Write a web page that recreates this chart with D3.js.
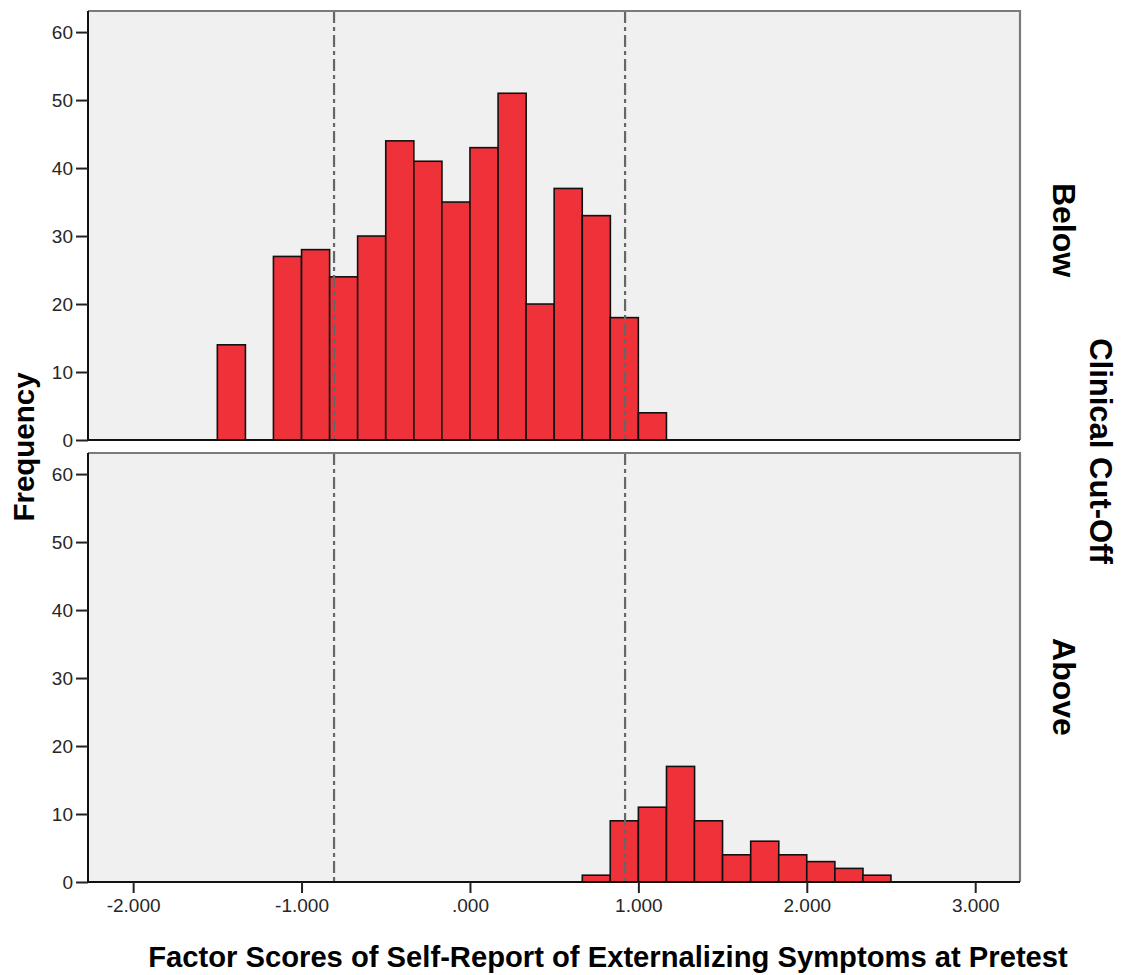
<!DOCTYPE html>
<html>
<head>
<meta charset="utf-8">
<script src="https://cdn.jsdelivr.net/npm/d3@7"></script>
<style>
  html, body { margin: 0; padding: 0; background: #fff; }
  svg { display: block; font-family: Arial, "Liberation Sans", sans-serif; }
</style>
</head>
<body>
<svg id="chart" width="1122" height="975"></svg>
<script>
// ---- data ----
const binWidth = 0.1667;
const belowBinStarts = [-1.5, -1.333, -1.167, -1.0, -0.833, -0.667, -0.5, -0.333, -0.167, 0.0, 0.167, 0.333, 0.5, 0.667, 0.833, 1.0];
const belowCounts    = [14, 0, 27, 28, 24, 30, 44, 41, 35, 43, 51, 20, 37, 33, 18, 4];
const aboveBinStarts = [0.667, 0.833, 1.0, 1.167, 1.333, 1.5, 1.667, 1.833, 2.0, 2.167, 2.333];
const aboveCounts    = [1, 9, 11, 17, 9, 4, 6, 4, 3, 2, 1];
const cutLines = [-0.807, 0.921];
const xTicks = [-2, -1, 0, 1, 2, 3];
const xTickLabels = ["-2.000", "-1.000", ".000", "1.000", "2.000", "3.000"];
const yTicks = [0, 10, 20, 30, 40, 50, 60];
const panelNames = ["Below", "Above"];
const xTitle = "Factor Scores of Self-Report of Externalizing Symptoms at Pretest";
const yTitle = "Frequency";
const facetTitle = "Clinical Cut-Off";

// ---- layout ----
const svg = d3.select("#chart");
const left = 88, right = 1020;
const panels = [
  { name: panelNames[0], top: 11, bottom: 440, labelY: 230, starts: belowBinStarts, counts: belowCounts },
  { name: panelNames[1], top: 453, bottom: 882, labelY: 687, starts: aboveBinStarts, counts: aboveCounts }
];
const x = d3.scaleLinear().domain([-2.268, 3.266]).range([left, right]);
const yMax = 63.1;

const barFill = "#ef3239";

panels.forEach((p, i) => {
  const y = d3.scaleLinear().domain([0, yMax]).range([p.bottom, p.top]);
  const g = svg.append("g");
  g.append("rect").attr("x", left).attr("y", p.top).attr("width", right - left).attr("height", p.bottom - p.top)
    .attr("fill", "#f0f0f0");
  const data = p.starts.map((s, k) => ({ s, c: p.counts[k] })).filter(d => d.c > 0);
  g.selectAll("rect.bar").data(data).enter().append("rect")
    .attr("class", "bar")
    .attr("x", d => x(d.s))
    .attr("width", d => x(d.s + binWidth) - x(d.s))
    .attr("y", d => y(d.c))
    .attr("height", d => y(0) - y(d.c))
    .attr("fill", barFill)
    .attr("stroke", "#111")
    .attr("stroke-width", 1.6);
  g.selectAll("line.cut").data(cutLines).enter().append("line")
    .attr("x1", d => x(d)).attr("x2", d => x(d))
    .attr("y1", p.top).attr("y2", p.bottom)
    .attr("stroke", "#666").attr("stroke-width", 2.2)
    .attr("stroke-dasharray", "12,4,4,4");
  g.append("path")
    .attr("d", `M${left},${p.top}H${right}V${p.bottom}`)
    .attr("fill", "none").attr("stroke", "#7a7a7a").attr("stroke-width", 2.2);
  const ya = g.append("g").attr("transform", `translate(${left},0)`)
    .call(d3.axisLeft(y).tickValues(yTicks).tickSize(12).tickPadding(3).tickFormat(d3.format("d")));
  ya.select(".domain").attr("d", `M0,${p.top}V${p.bottom}`).attr("stroke", "#111").attr("stroke-width", 2);
  ya.selectAll(".tick line").attr("stroke", "#222").attr("stroke-width", 2);
  ya.selectAll(".tick text").attr("font-size", 19).attr("fill", "#262626")
    .attr("font-family", "Arial, 'Liberation Sans', sans-serif");
  g.append("line").attr("x1", left).attr("x2", right).attr("y1", p.bottom).attr("y2", p.bottom)
    .attr("stroke", "#111").attr("stroke-width", 2);
  svg.append("text")
    .attr("transform", `translate(1053, ${p.labelY}) rotate(90)`)
    .attr("text-anchor", "middle")
    .attr("font-size", 32).attr("font-weight", "bold").attr("fill", "#000")
    .text(p.name);
});

const xa = svg.append("g").attr("transform", `translate(0,${panels[1].bottom})`)
  .call(d3.axisBottom(x).tickValues(xTicks).tickSize(11).tickPadding(6)
    .tickFormat((d, k) => xTickLabels[k]));
xa.select(".domain").remove();
xa.selectAll(".tick line").attr("stroke", "#222").attr("stroke-width", 2);
xa.selectAll(".tick text").attr("font-size", 19).attr("fill", "#262626")
  .attr("font-family", "Arial, 'Liberation Sans', sans-serif");

svg.append("text")
  .attr("x", 608).attr("y", 967)
  .attr("text-anchor", "middle")
  .attr("font-size", 29.2).attr("font-weight", "bold").attr("fill", "#000")
  .text(xTitle);

svg.append("text")
  .attr("transform", "translate(34, 447) rotate(-90)")
  .attr("text-anchor", "middle")
  .attr("font-size", 29.5).attr("font-weight", "bold").attr("fill", "#000")
  .text(yTitle);

svg.append("text")
  .attr("transform", "translate(1090, 451) rotate(90)")
  .attr("text-anchor", "middle")
  .attr("font-size", 31).attr("font-weight", "bold").attr("fill", "#000")
  .text(facetTitle);
</script>
</body>
</html>
